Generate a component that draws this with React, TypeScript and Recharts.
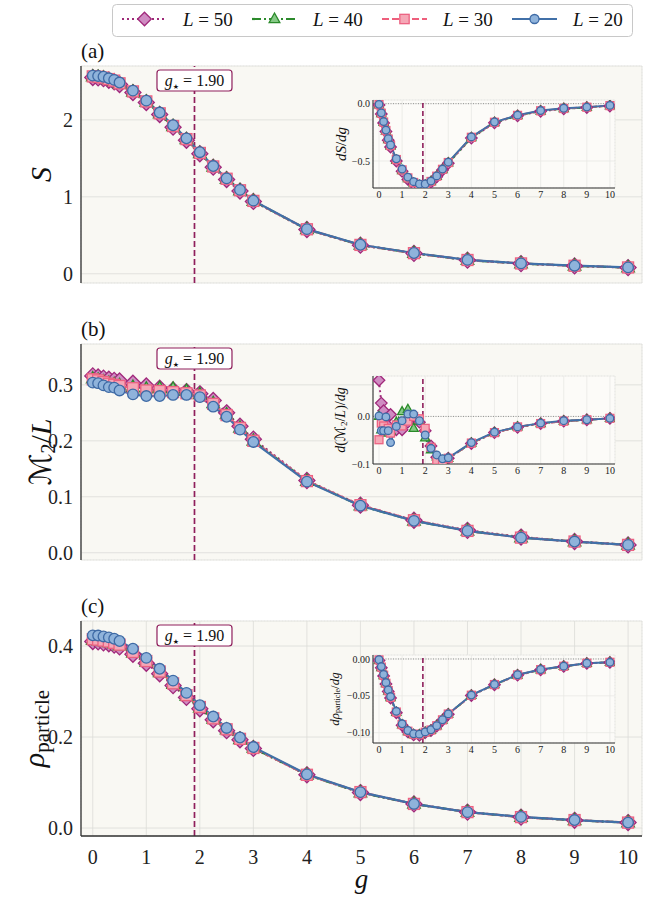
import React from 'react';
import { LineChart, Line, XAxis, YAxis, CartesianGrid, ReferenceLine } from 'recharts';

const FONT = "'Liberation Serif', 'DejaVu Serif', 'DejaVu Sans', serif";

// ---------- data ----------
const gValues = [0, 0.1, 0.2, 0.3, 0.4, 0.5, 0.75, 1, 1.25, 1.5, 1.75, 2, 2.25, 2.5, 2.75, 3, 4, 5, 6, 7, 8, 9, 10];
const gStar = 1.9;

const S_L50 = [2.55, 2.545, 2.535, 2.515, 2.495, 2.46, 2.355, 2.225, 2.07, 1.905, 1.735, 1.56, 1.385, 1.225, 1.075, 0.94, 0.575, 0.372, 0.265, 0.177, 0.132, 0.102, 0.08];
const S_L40 = [2.56, 2.555, 2.545, 2.525, 2.505, 2.47, 2.365, 2.235, 2.08, 1.915, 1.745, 1.565, 1.39, 1.23, 1.08, 0.945, 0.577, 0.374, 0.267, 0.178, 0.133, 0.103, 0.081];
const S_L30 = [2.565, 2.56, 2.55, 2.53, 2.51, 2.475, 2.37, 2.24, 2.085, 1.92, 1.75, 1.57, 1.395, 1.235, 1.085, 0.947, 0.578, 0.375, 0.268, 0.179, 0.134, 0.104, 0.082];
const S_L20 = [2.575, 2.57, 2.56, 2.54, 2.52, 2.485, 2.38, 2.25, 2.095, 1.93, 1.76, 1.58, 1.4, 1.24, 1.09, 0.95, 0.58, 0.377, 0.27, 0.18, 0.135, 0.105, 0.083];

const dS_L50 = [-0.012, -0.09, -0.168, -0.243, -0.318, -0.378, -0.5, -0.59, -0.66, -0.7, -0.72, -0.715, -0.685, -0.638, -0.578, -0.52, -0.3, -0.167, -0.106, -0.066, -0.045, -0.033, -0.02];
const dS_L40 = [-0.01, -0.086, -0.163, -0.238, -0.313, -0.37, -0.493, -0.583, -0.653, -0.693, -0.712, -0.71, -0.68, -0.634, -0.575, -0.516, -0.296, -0.164, -0.104, -0.064, -0.043, -0.032, -0.018];
const dS_L30 = [-0.008, -0.083, -0.16, -0.234, -0.309, -0.365, -0.487, -0.577, -0.647, -0.687, -0.706, -0.705, -0.678, -0.632, -0.572, -0.513, -0.293, -0.162, -0.102, -0.062, -0.042, -0.031, -0.017];
const dS_L20 = [-0.006, -0.08, -0.156, -0.23, -0.305, -0.36, -0.48, -0.57, -0.64, -0.68, -0.7, -0.7, -0.675, -0.63, -0.57, -0.51, -0.29, -0.16, -0.1, -0.06, -0.04, -0.03, -0.015];

const M_L50 = [0.316, 0.314, 0.312, 0.31, 0.308, 0.307, 0.303, 0.298, 0.294, 0.291, 0.288, 0.284, 0.272, 0.25, 0.226, 0.203, 0.129, 0.085, 0.058, 0.04, 0.028, 0.02, 0.014];
const M_L40 = [0.311, 0.309, 0.306, 0.303, 0.301, 0.299, 0.296, 0.293, 0.294, 0.293, 0.289, 0.283, 0.267, 0.247, 0.223, 0.2, 0.128, 0.084, 0.057, 0.039, 0.027, 0.02, 0.014];
const M_L30 = [0.31, 0.308, 0.305, 0.302, 0.3, 0.298, 0.294, 0.29, 0.289, 0.287, 0.285, 0.281, 0.266, 0.246, 0.223, 0.2, 0.128, 0.085, 0.058, 0.039, 0.027, 0.02, 0.014];
const M_L20 = [0.304, 0.303, 0.299, 0.296, 0.295, 0.29, 0.283, 0.28, 0.28, 0.282, 0.282, 0.278, 0.261, 0.243, 0.22, 0.198, 0.127, 0.084, 0.057, 0.039, 0.027, 0.02, 0.014];

const dM_L50 = [0.076, 0.028, 0.012, -0.005, -0.02, 0.004, -0.028, -0.028, -0.012, 0.0, -0.012, -0.03, -0.062, -0.086, -0.095, -0.088, -0.057, -0.034, -0.023, -0.015, -0.01, -0.007, -0.004];
const dM_L40 = [0.0, -0.028, -0.018, -0.025, -0.035, -0.03, -0.012, 0.01, 0.015, -0.025, -0.01, -0.045, -0.07, -0.085, -0.093, -0.088, -0.056, -0.034, -0.022, -0.015, -0.01, -0.007, -0.004];
const dM_L30 = [-0.049, -0.014, -0.02, -0.03, -0.025, -0.035, -0.018, -0.02, -0.01, 0.0, -0.005, -0.025, -0.065, -0.092, -0.095, -0.088, -0.056, -0.034, -0.022, -0.015, -0.01, -0.007, -0.004];
const dM_L20 = [0.001, -0.03, -0.03, -0.001, -0.03, -0.055, -0.021, -0.009, 0.005, 0.005, -0.009, -0.039, -0.067, -0.081, -0.089, -0.087, -0.055, -0.033, -0.022, -0.014, -0.009, -0.007, -0.004];

const R_L50 = [0.41, 0.409, 0.407, 0.405, 0.402, 0.398, 0.382, 0.362, 0.339, 0.313, 0.287, 0.262, 0.238, 0.214, 0.194, 0.175, 0.117, 0.078, 0.053, 0.035, 0.024, 0.017, 0.012];
const R_L40 = [0.413, 0.412, 0.41, 0.408, 0.405, 0.401, 0.385, 0.365, 0.342, 0.316, 0.29, 0.264, 0.24, 0.216, 0.195, 0.176, 0.117, 0.078, 0.053, 0.035, 0.024, 0.017, 0.012];
const R_L30 = [0.415, 0.414, 0.412, 0.41, 0.407, 0.403, 0.387, 0.367, 0.344, 0.318, 0.292, 0.266, 0.241, 0.217, 0.196, 0.176, 0.117, 0.079, 0.053, 0.035, 0.024, 0.0175, 0.012];
const R_L20 = [0.4235, 0.423, 0.421, 0.419, 0.416, 0.411, 0.394, 0.374, 0.35, 0.324, 0.297, 0.27, 0.245, 0.22, 0.199, 0.178, 0.118, 0.079, 0.053, 0.035, 0.0245, 0.0175, 0.012];

const dR_L50 = [-0.002, -0.012, -0.023, -0.034, -0.044, -0.053, -0.073, -0.09, -0.099, -0.103, -0.1035, -0.1, -0.097, -0.091, -0.083, -0.075, -0.0495, -0.035, -0.022, -0.0147, -0.0101, -0.006, -0.0047];
const dR_L40 = [-0.0017, -0.0115, -0.0225, -0.0335, -0.0435, -0.0525, -0.0725, -0.0895, -0.0985, -0.1025, -0.103, -0.0997, -0.0967, -0.0908, -0.0828, -0.0748, -0.0493, -0.0348, -0.0218, -0.0146, -0.01, -0.0059, -0.0046];
const dR_L30 = [-0.0013, -0.011, -0.022, -0.033, -0.043, -0.052, -0.072, -0.089, -0.098, -0.102, -0.1025, -0.0994, -0.0964, -0.0906, -0.0826, -0.0747, -0.0492, -0.0347, -0.0216, -0.0145, -0.0099, -0.0058, -0.0045];
const dR_L20 = [-0.001, -0.0103, -0.021, -0.032, -0.042, -0.051, -0.071, -0.088, -0.097, -0.1015, -0.102, -0.099, -0.096, -0.0905, -0.0825, -0.0745, -0.049, -0.0345, -0.0214, -0.0143, -0.0098, -0.0058, -0.0045];

const xMajorTicks = [0, 1, 2, 3, 4, 5, 6, 7, 8, 9, 10];
const xMinorTicks = [0.5, 1.5, 2.5, 3.5, 4.5, 5.5, 6.5, 7.5, 8.5, 9.5];

const SERIES = [
  { key: 'L50', L: '50', stroke: '#9e2a78', dash: '2 3', fill: '#cf8cc2', edge: '#a0287a', shape: 'diamond' },
  { key: 'L40', L: '40', stroke: '#2c8a2c', dash: '9 3 2 3', fill: '#86c986', edge: '#2a8a2a', shape: 'triangle' },
  { key: 'L30', L: '30', stroke: '#ee5f7c', dash: '7 3', fill: '#f5a7b6', edge: '#ec6282', shape: 'square' },
  { key: 'L20', L: '20', stroke: '#4170a8', dash: undefined as string | undefined, fill: '#8fb3db', edge: '#3e6aa5', shape: 'circle' },
];

const rows = (a: number[], b: number[], c: number[], d: number[]) =>
  gValues.map((g, i) => ({ g, L50: a[i], L40: b[i], L30: c[i], L20: d[i] }));

const rowsS = rows(S_L50, S_L40, S_L30, S_L20);
const rowsDS = rows(dS_L50, dS_L40, dS_L30, dS_L20);
const rowsM = rows(M_L50, M_L40, M_L30, M_L20);
const rowsDM = rows(dM_L50, dM_L40, dM_L30, dM_L20);
const rowsR = rows(R_L50, R_L40, R_L30, R_L20);
const rowsDR = rows(dR_L50, dR_L40, dR_L30, dR_L20);

const VLINE = '#8f1f5c';
const FRAME = '#333333';

// ---------- markers ----------
function Marker({ shape, cx, cy, s, fill, edge, sw }: any) {
  if (shape === 'diamond') {
    const r = 8 * s;
    return <polygon points={`${cx},${cy - r} ${cx + r},${cy} ${cx},${cy + r} ${cx - r},${cy}`} fill={fill} stroke={edge} strokeWidth={sw} />;
  }
  if (shape === 'triangle') {
    const r = 7 * s;
    return <polygon points={`${cx},${cy - r} ${cx + r * 0.9},${cy + r * 0.6} ${cx - r * 0.9},${cy + r * 0.6}`} fill={fill} stroke={edge} strokeWidth={sw} />;
  }
  if (shape === 'square') {
    const h = 5.5 * s;
    return <rect x={cx - h} y={cy - h} width={2 * h} height={2 * h} fill={fill} stroke={edge} strokeWidth={sw} />;
  }
  return <circle cx={cx} cy={cy} r={5.3 * s} fill={fill} stroke={edge} strokeWidth={sw} />;
}

const makeDot = (ser: any, s: number) => (props: any) => {
  const { cx, cy, index } = props;
  if (cx == null || cy == null || isNaN(cx) || isNaN(cy)) return <g key={`e${index}`} />;
  return (
    <g key={`d${ser.key}${index}`}>
      <Marker shape={ser.shape} cx={cx} cy={cy} s={s} fill={ser.fill} edge={ser.edge} sw={1.3} />
    </g>
  );
};

const fmtSigned = (n: number) => (v: number) => (v < -1e-9 ? '\u2212' : '') + Math.abs(v).toFixed(n);

// ---------- labels ----------
const gStarLabel = (props: any) => {
  const vb = props.viewBox || {};
  const x = vb.x;
  const y = vb.y;
  return (
    <g>
      <rect x={x - 37.5} y={y + 4} width={75} height={21} rx={3} fill="#ffffff" stroke={VLINE} strokeWidth={1.2} />
      <text x={x} y={y + 20} textAnchor="middle" fontFamily={FONT} fontSize={16} fill="#111">
        <tspan fontStyle="italic">g</tspan>
        <tspan fontSize={7} dy={3} fontFamily="'DejaVu Sans', sans-serif">{'\u2605'}</tspan>
        <tspan dy={-3}>{' = 1.90'}</tspan>
      </text>
    </g>
  );
};

const yLabelFn = (kind: string, dx: number, fs: number) => (props: any) => {
  const vb = props.viewBox || {};
  const cx = vb.x + dx;
  const cy = vb.y + vb.height / 2;
  const sub = Math.round(fs * 0.65);
  const sh = Math.round(fs * 0.25);
  let content: any = null;
  if (kind === 'S') content = <tspan fontStyle="italic">S</tspan>;
  if (kind === 'M') content = (
    <>
      <tspan>{'\u2133'}</tspan>
      <tspan fontSize={sub} dy={sh}>2</tspan>
      <tspan dy={-sh}>/</tspan>
      <tspan fontStyle="italic">L</tspan>
    </>
  );
  if (kind === 'R') content = (
    <>
      <tspan fontStyle="italic">{'\u03C1'}</tspan>
      <tspan fontSize={Math.round(fs * 0.7)} dy={sh + 1}>particle</tspan>
    </>
  );
  if (kind === 'dS') content = (
    <>
      <tspan fontStyle="italic">dS</tspan>
      <tspan>/</tspan>
      <tspan fontStyle="italic">dg</tspan>
    </>
  );
  if (kind === 'dM') content = (
    <>
      <tspan fontStyle="italic">d</tspan>
      <tspan>({'\u2133'}</tspan>
      <tspan fontSize={sub} dy={sh}>2</tspan>
      <tspan dy={-sh}>/</tspan>
      <tspan fontStyle="italic">L</tspan>
      <tspan>)/</tspan>
      <tspan fontStyle="italic">dg</tspan>
    </>
  );
  if (kind === 'dR') content = (
    <>
      <tspan fontStyle="italic">d{'\u03C1'}</tspan>
      <tspan fontSize={sub} dy={sh}>particle</tspan>
      <tspan dy={-sh}>/</tspan>
      <tspan fontStyle="italic">dg</tspan>
    </>
  );
  return (
    <text x={cx} y={cy} transform={`rotate(-90 ${cx} ${cy})`} textAnchor="middle" dominantBaseline="central"
      fontFamily={FONT} fontSize={fs} fill="#111">
      {content}
    </text>
  );
};

const gAxisLabel = (props: any) => {
  const vb = props.viewBox || {};
  return (
    <text x={vb.x + vb.width / 2} y={vb.y + 52} textAnchor="middle" fontFamily={FONT} fontSize={27} fontStyle="italic" fill="#111">g</text>
  );
};

// ---------- panel ----------
type PanelProps = {
  left: number; top: number; width: number; height: number;
  margin: { top: number; right: number; bottom: number; left: number };
  data: any[];
  xd: [number, number]; yd: [number, number];
  yMaj: number[]; yMin: number[];
  yFmt: (v: number) => string;
  yW: number; yFs: number; yTs: number; yTm: number;
  xH: number; xShow: boolean; xFs: number; xTs: number; xTm: number;
  majLen: number; minLen: number; frameW: number;
  bg: string; yLabel: any; xLabel?: any;
  ms: number; lw: number; inset?: boolean;
};

function Panel(p: PanelProps) {
  const tickStyle = (fs: number) => ({ fontSize: fs, fill: '#222', fontFamily: FONT });
  const frameLine = { stroke: FRAME, strokeWidth: p.frameW };
  const tl = { stroke: FRAME, strokeWidth: p.inset ? 0.8 : 1 };
  const common = { type: 'number' as const, allowDataOverflow: true, interval: 0 as const };
  return (
    <div style={{ position: 'absolute', left: p.left, top: p.top, width: p.width, height: p.height }}>
      <LineChart width={p.width} height={p.height} data={p.data} margin={p.margin}>
        <CartesianGrid xAxisId="x" yAxisId="y" stroke={p.inset ? '#e8e8e4' : '#dcdcd8'} strokeWidth={0.8} fill={p.bg} fillOpacity={1} />
        <CartesianGrid xAxisId="xb2" yAxisId="yl2" stroke="#e2e2de" strokeWidth={0.6} strokeDasharray="1 2" />
        <XAxis xAxisId="x" dataKey="g" {...common} domain={p.xd} ticks={xMajorTicks} orientation="bottom" height={p.xH}
          tick={p.xShow ? tickStyle(p.xFs) : false} tickLine={false} tickSize={p.xTs} tickMargin={p.xTm}
          axisLine={frameLine} label={p.xLabel} />
        <XAxis xAxisId="xb1" {...common} domain={p.xd} ticks={xMajorTicks} orientation="bottom" mirror height={0}
          tick={false} tickSize={p.majLen} tickLine={tl} axisLine={false} />
        <XAxis xAxisId="xb2" {...common} domain={p.xd} ticks={xMinorTicks} orientation="bottom" mirror height={0}
          tick={false} tickSize={p.minLen} tickLine={tl} axisLine={false} />
        <XAxis xAxisId="xt1" {...common} domain={p.xd} ticks={xMajorTicks} orientation="top" mirror height={0}
          tick={false} tickSize={p.majLen} tickLine={tl} axisLine={frameLine} />
        <XAxis xAxisId="xt2" {...common} domain={p.xd} ticks={xMinorTicks} orientation="top" mirror height={0}
          tick={false} tickSize={p.minLen} tickLine={tl} axisLine={false} />
        <YAxis yAxisId="y" {...common} domain={p.yd} ticks={p.yMaj} orientation="left" width={p.yW}
          tick={tickStyle(p.yFs)} tickFormatter={p.yFmt} tickLine={false} tickSize={p.yTs} tickMargin={p.yTm}
          axisLine={frameLine} label={p.yLabel} />
        <YAxis yAxisId="yl1" {...common} domain={p.yd} ticks={p.yMaj} orientation="left" mirror width={0}
          tick={false} tickSize={p.majLen} tickLine={tl} axisLine={false} />
        <YAxis yAxisId="yl2" {...common} domain={p.yd} ticks={p.yMin} orientation="left" mirror width={0}
          tick={false} tickSize={p.minLen} tickLine={tl} axisLine={false} />
        <YAxis yAxisId="yr1" {...common} domain={p.yd} ticks={p.yMaj} orientation="right" mirror width={0}
          tick={false} tickSize={p.majLen} tickLine={tl} axisLine={frameLine} />
        <YAxis yAxisId="yr2" {...common} domain={p.yd} ticks={p.yMin} orientation="right" mirror width={0}
          tick={false} tickSize={p.minLen} tickLine={tl} axisLine={false} />
        {p.inset ? (
          <ReferenceLine xAxisId="x" yAxisId="y" y={0} stroke="#8a8a8a" strokeWidth={0.9} strokeDasharray="1 1.5" />
        ) : null}
        <ReferenceLine xAxisId="x" yAxisId="y" x={gStar} stroke={VLINE} strokeWidth={p.inset ? 1.6 : 1.7}
          strokeDasharray={p.inset ? '5 3' : '6 3'} label={p.inset ? undefined : gStarLabel} />
        {SERIES.map((s) => (
          <Line key={s.key} xAxisId="x" yAxisId="y" dataKey={s.key} stroke={s.stroke} strokeWidth={p.lw}
            strokeDasharray={s.dash} dot={makeDot(s, p.ms)} activeDot={false} isAnimationActive={false} />
        ))}
      </LineChart>
    </div>
  );
}

const mainX: [number, number] = [-0.22, 10.26];
const insetX: [number, number] = [-0.26, 10.22];

const mainCommon = {
  left: 0, width: 650, xd: mainX, yW: 81, yFs: 20, yTs: 6, yTm: 2,
  xFs: 20, xTs: 6, xTm: 8, majLen: 7, minLen: 4, frameW: 1.3, bg: '#f9f8f3', ms: 1, lw: 2.2,
};

const insetCommon = {
  left: 318, width: 312, height: 117, xd: insetX,
  margin: { top: 10, right: 15, bottom: 4, left: 0 },
  yW: 55, yFs: 10, yTs: 2, yTm: 1, xH: 15, xShow: true, xFs: 10, xTs: 2, xTm: 1,
  majLen: 4, minLen: 2.5, frameW: 1.1, bg: '#fcfbf8', ms: 0.72, lw: 1.9, inset: true,
};

function LegendAndTitles() {
  return (
    <svg width={650} height={897} style={{ position: 'absolute', left: 0, top: 0, pointerEvents: 'none' }}>
      <g fontFamily={FONT} fill="#111">
        <text x={81} y={58} fontSize={21}>(a)</text>
        <text x={81} y={336} fontSize={21}>(b)</text>
        <text x={81} y={613} fontSize={21}>(c)</text>
      </g>
      <rect x={112.5} y={4.5} width={520} height={32} rx={4} fill="#ffffff" stroke="#c8c8c8" strokeWidth={1} />
      {SERIES.map((s, i) => {
        const x0 = 122 + i * 130;
        return (
          <g key={s.key}>
            <line x1={x0} x2={x0 + 45} y1={19} y2={19} stroke={s.stroke} strokeWidth={2.2} strokeDasharray={s.dash} />
            <Marker shape={s.shape} cx={x0 + 22.5} cy={19} s={0.85} fill={s.fill} edge={s.edge} sw={1.3} />
            <text x={x0 + 61} y={26} fontFamily={FONT} fontSize={19} fill="#111">
              <tspan fontStyle="italic">L</tspan>
              <tspan>{' = ' + s.L}</tspan>
            </text>
          </g>
        );
      })}
    </svg>
  );
}

export default function App() {
  return (
    <div style={{ position: 'absolute', left: 0, top: 0, width: 650, height: 897, background: '#ffffff', overflow: 'hidden' }}>
      <Panel {...mainCommon} top={0} height={300} margin={{ top: 66, right: 8, bottom: 17, left: 0 }} data={rowsS}
        yd={[-0.12, 2.7]} yMaj={[0, 1, 2]} yMin={[0.5, 1.5, 2.5]} yFmt={(v) => String(v)}
        xH={0} xShow={false} yLabel={yLabelFn('S', 40, 30)} />
      <Panel {...mainCommon} top={300} height={280} margin={{ top: 44, right: 8, bottom: 20, left: 0 }} data={rowsM}
        yd={[-0.013, 0.373]} yMaj={[0, 0.1, 0.2, 0.3]} yMin={[0.05, 0.15, 0.25, 0.35]} yFmt={(v) => v.toFixed(1)}
        xH={0} xShow={false} yLabel={yLabelFn('M', 40, 30)} />
      <Panel {...mainCommon} top={580} height={317} margin={{ top: 41, right: 8, bottom: 0, left: 0 }} data={rowsR}
        yd={[-0.0175, 0.455]} yMaj={[0, 0.2, 0.4]} yMin={[0.1, 0.3]} yFmt={(v) => v.toFixed(1)}
        xH={61} xShow={true} yLabel={yLabelFn('R', 33, 30)} xLabel={gAxisLabel} />

      <Panel {...insetCommon} top={90} data={rowsDS}
        yd={[-0.735, 0.032]} yMaj={[0, -0.5]} yMin={[-0.25]} yFmt={fmtSigned(1)} yLabel={yLabelFn('dS', 23, 15)} />
      <Panel {...insetCommon} top={366} data={rowsDM}
        yd={[-0.1, 0.085]} yMaj={[0, -0.1]} yMin={[0.05, -0.05]} yFmt={fmtSigned(1)} yLabel={yLabelFn('dM', 22, 14)} />
      <Panel {...insetCommon} top={645} data={rowsDR}
        yd={[-0.114, 0.0054]} yMaj={[0, -0.05, -0.1]} yMin={[-0.025, -0.075]} yFmt={fmtSigned(2)} yLabel={yLabelFn('dR', 16, 13)} />

      <LegendAndTitles />
    </div>
  );
}
